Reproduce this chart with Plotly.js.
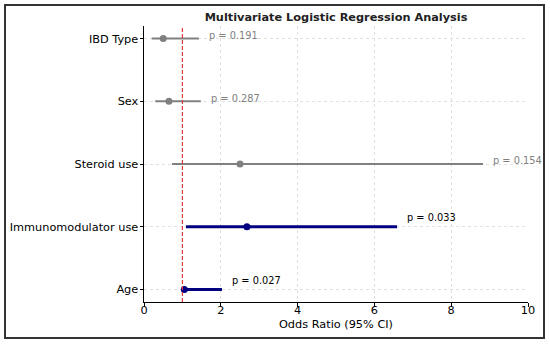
<!DOCTYPE html>
<html>
<head>
<meta charset="utf-8">
<script src="https://cdn.plot.ly/plotly-3.0.1.min.js"></script>
<style>html,body{margin:0;padding:0;background:#fff;}#chart{width:550px;height:344px;}</style>
</head>
<body>
<div id="chart"></div>
<script>
// Variables listed bottom -> top
const variables = ["Age", "Immunomodulator use", "Steroid use", "Sex", "IBD Type"];
const oddsRatio = [1.05, 2.68, 2.50, 0.65, 0.50];
const ciLower   = [1.05, 1.09, 0.73, 0.29, 0.20];
const ciUpper   = [2.03, 6.59, 8.83, 1.48, 1.43];
const pValues   = ["0.027", "0.033", "0.154", "0.287", "0.191"];
const significant = [true, true, false, false, false];

const yIdx = variables.map((_, i) => i);

function makeTrace(sig) {
  const idx = yIdx.filter(i => significant[i] === sig);
  const color = sig ? "#000080" : "#808080";
  return {
    type: "scatter", mode: "markers",
    x: idx.map(i => oddsRatio[i]),
    y: idx.map(i => i),
    marker: {color: color, size: 7},
    error_x: {
      type: "data", symmetric: false,
      array: idx.map(i => ciUpper[i] - oddsRatio[i]),
      arrayminus: idx.map(i => oddsRatio[i] - ciLower[i]),
      color: color, thickness: sig ? 3 : 2, width: 0
    },
    hoverinfo: "skip", showlegend: false
  };
}

const annotations = yIdx.map(i => ({
  x: ciUpper[i] + 0.2, y: i + (significant[i] ? 0.15 : 0.05),
  xref: "x", yref: "y", text: "p = " + pValues[i],
  showarrow: false, xanchor: "left", yanchor: "middle",
  font: {family: "DejaVu Sans", size: 9.8, color: significant[i] ? "#000000" : "#808080"}
}));

const layout = {
  width: 550, height: 344,
  margin: {l: 144, r: 22, t: 26, b: 42},
  paper_bgcolor: "#ffffff", plot_bgcolor: "#ffffff",
  font: {family: "DejaVu Sans", color: "#000000"},
  title: {
    text: "<b>Multivariate Logistic Regression Analysis</b>",
    font: {family: "DejaVu Sans", size: 11.3, color: "#222222"},
    xref: "paper", x: 0.5, xanchor: "center",
    yref: "container", y: 1 - 17/344, yanchor: "middle"
  },
  xaxis: {
    range: [0, 10], tickvals: [0, 2, 4, 6, 8, 10],
    showline: true, linecolor: "#000000", linewidth: 1,
    ticks: "outside", ticklen: 3.5, tickcolor: "#000000",
    ticklabelstandoff: -6,
    showgrid: true, gridcolor: "#e0e0e0", griddash: "dot", gridwidth: 1,
    zeroline: false,
    tickfont: {size: 11.3},
    title: {text: "Odds Ratio (95% CI)", font: {size: 11.3}, standoff: 4}
  },
  yaxis: {
    range: [-0.2, 4.2], tickvals: yIdx, ticktext: variables,
    showline: true, linecolor: "#000000", linewidth: 1,
    ticks: "outside", ticklen: 3.5, tickcolor: "#000000",
    ticklabelstandoff: -1,
    showgrid: true, gridcolor: "#e0e0e0", griddash: "dot", gridwidth: 1,
    zeroline: false,
    tickfont: {size: 11.3}
  },
  shapes: [
    {type: "line", xref: "x", yref: "paper", x0: 1, x1: 1, y0: 0, y1: 1,
     line: {color: "#e03a3a", width: 1.2, dash: "4px,2px"}},
    {type: "rect", xref: "paper", yref: "paper",
     x0: (5 - 144) / 384, x1: (544 - 144) / 384,
     y0: (302 - 338) / 276, y1: (302 - 5) / 276,
     line: {color: "#333333", width: 2}, fillcolor: "rgba(0,0,0,0)", layer: "above"}
  ],
  annotations: annotations
};

Plotly.newPlot("chart", [makeTrace(false), makeTrace(true)], layout, {displayModeBar: false, staticPlot: true});
</script>
</body>
</html>
